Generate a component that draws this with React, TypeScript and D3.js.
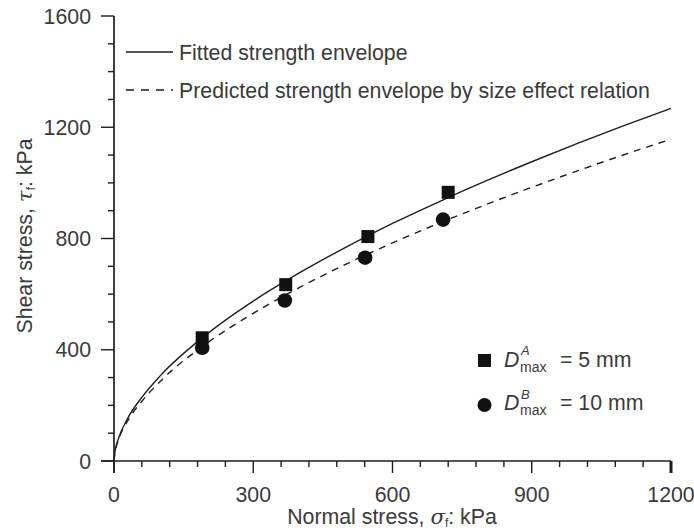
import React from "react";
import * as d3 from "d3";

const W = 694;
const H = 530;

// Data
const squaresSigma = [190, 370, 547, 720];
const squaresTau = [443, 634, 807, 966];
const circlesSigma = [190, 368, 541, 709];
const circlesTau = [407, 577, 731, 868];

const curveSigma = [0, 2, 5, 10, 30, 60, 100, 200, 300, 400, 500, 600, 700, 800, 900, 1000, 1100, 1200];
const fittedTau = [0, 33, 56, 83, 155, 229, 307, 456, 575, 677, 769, 854, 932, 1006, 1076, 1143, 1207, 1268];
const predictedTau = [0, 32, 53, 79, 146, 215, 287, 423, 531, 624, 708, 784, 855, 921, 984, 1044, 1102, 1157];

const xMajor = [0, 300, 600, 900, 1200];
const xMinor = d3.range(0, 1201, 60);
const yMajor = [0, 400, 800, 1200, 1600];
const yMinor = d3.range(0, 1601, 100);

const FONT = "'Liberation Sans', Arial, Helvetica, sans-serif";
const SERIF = "'DejaVu Serif', 'Liberation Serif', serif";
const TXT = "#3a3a3a";
const INK = "#1e1e1e";

export default function App() {
  const x = d3.scaleLinear().domain([0, 1200]).range([114, 671]);
  const y = d3.scaleLinear().domain([0, 1600]).range([461, 16]);

  const line = d3
    .line<number>()
    .x((_, i) => x(curveSigma[i]))
    .y((v) => y(v))
    .curve(d3.curveMonotoneX);

  const fs = 21.3;

  return (
    <svg width={W} height={H} style={{ position: "absolute", left: 0, top: 0, background: "#fff" }}>
      <rect width={W} height={H} fill="#fff" />
      {/* curves */}
      <path d={line(fittedTau) || ""} fill="none" stroke={INK} strokeWidth={1.4} />
      <path d={line(predictedTau) || ""} fill="none" stroke={INK} strokeWidth={1.4} strokeDasharray="7,6" />

      {/* axes */}
      <line x1={x(0)} x2={x(0)} y1={y(1600)} y2={y(0) + 12} stroke={INK} strokeWidth={1.7} />
      <line x1={x(0) - 13} x2={x(1200)} y1={y(0)} y2={y(0)} stroke={INK} strokeWidth={1.7} />
      {yMinor.map((v) => (
        <line
          key={"ym" + v}
          x1={x(0) - (yMajor.includes(v) ? 13 : 6)}
          x2={x(0)}
          y1={y(v)}
          y2={y(v)}
          stroke={INK}
          strokeWidth={1.4}
        />
      ))}
      {xMinor.map((v) => (
        <line
          key={"xm" + v}
          x1={x(v)}
          x2={x(v)}
          y1={y(0)}
          y2={y(0) + (xMajor.includes(v) ? 12 : 6)}
          stroke={INK}
          strokeWidth={v === 1200 ? 3 : 1.4}
        />
      ))}
      {yMajor.map((v) => (
        <text key={"yl" + v} x={91} y={y(v) + 7.5} textAnchor="end" fontFamily={FONT} fontSize={fs} fill={TXT}>
          {v}
        </text>
      ))}
      {xMajor.map((v) => (
        <text key={"xl" + v} x={x(v)} y={502} textAnchor="middle" fontFamily={FONT} fontSize={fs} fill={TXT}>
          {v}
        </text>
      ))}

      {/* axis titles */}
      <text x={392} y={524} textAnchor="middle" fontFamily={FONT} fontSize={fs} fill={TXT}>
        Normal stress,{" "}
        <tspan fontFamily={SERIF} fontStyle="italic">σ</tspan>
        <tspan fontSize={12} dy={3}>f</tspan>
        <tspan dy={-3}>: kPa</tspan>
      </text>
      <text
        transform={`translate(32, 236) rotate(-90)`}
        textAnchor="middle"
        fontFamily={FONT}
        fontSize={fs}
        fill={TXT}
      >
        Shear stress,{" "}
        <tspan fontFamily={SERIF} fontStyle="italic">τ</tspan>
        <tspan fontSize={12} dy={3}>f</tspan>
        <tspan dy={-3}>: kPa</tspan>
      </text>

      {/* data markers */}
      {squaresSigma.map((s, i) => (
        <rect key={"sq" + i} x={x(s) - 6.5} y={y(squaresTau[i]) - 6.5} width={13} height={13} fill="#111" />
      ))}
      {circlesSigma.map((s, i) => (
        <circle key={"ci" + i} cx={x(s)} cy={y(circlesTau[i])} r={7.3} fill="#111" />
      ))}

      {/* top legend */}
      <line x1={126} x2={173} y1={52} y2={52} stroke={INK} strokeWidth={1.4} />
      <text x={179} y={60} fontFamily={FONT} fontSize={fs} fill={TXT}>
        Fitted strength envelope
      </text>
      <line x1={126} x2={173} y1={90} y2={90} stroke={INK} strokeWidth={1.4} strokeDasharray="8,7" />
      <text x={179} y={98} fontFamily={FONT} fontSize={fs} fill={TXT}>
        Predicted strength envelope by size effect relation
      </text>

      {/* bottom legend */}
      <rect x={478} y={354} width={13} height={13} fill="#111" />
      <text x={504} y={367} fontFamily={FONT} fontSize={fs} fill={TXT} fontStyle="italic">D</text>
      <text x={521} y={355} fontFamily={FONT} fontSize={13} fill={TXT} fontStyle="italic">A</text>
      <text x={520} y={372} fontFamily={FONT} fontSize={14}>
        <tspan fill={TXT}>max</tspan>
      </text>
      <text x={560} y={367} fontFamily={FONT} fontSize={fs} fill={TXT}>= 5 mm</text>

      <circle cx={484.5} cy={405} r={7} fill="#111" />
      <text x={504} y={410} fontFamily={FONT} fontSize={fs} fill={TXT} fontStyle="italic">D</text>
      <text x={521} y={399} fontFamily={FONT} fontSize={13} fill={TXT} fontStyle="italic">B</text>
      <text x={520} y={415} fontFamily={FONT} fontSize={14}>
        <tspan fill={TXT}>max</tspan>
      </text>
      <text x={560} y={410} fontFamily={FONT} fontSize={fs} fill={TXT}>= 10 mm</text>
    </svg>
  );
}
